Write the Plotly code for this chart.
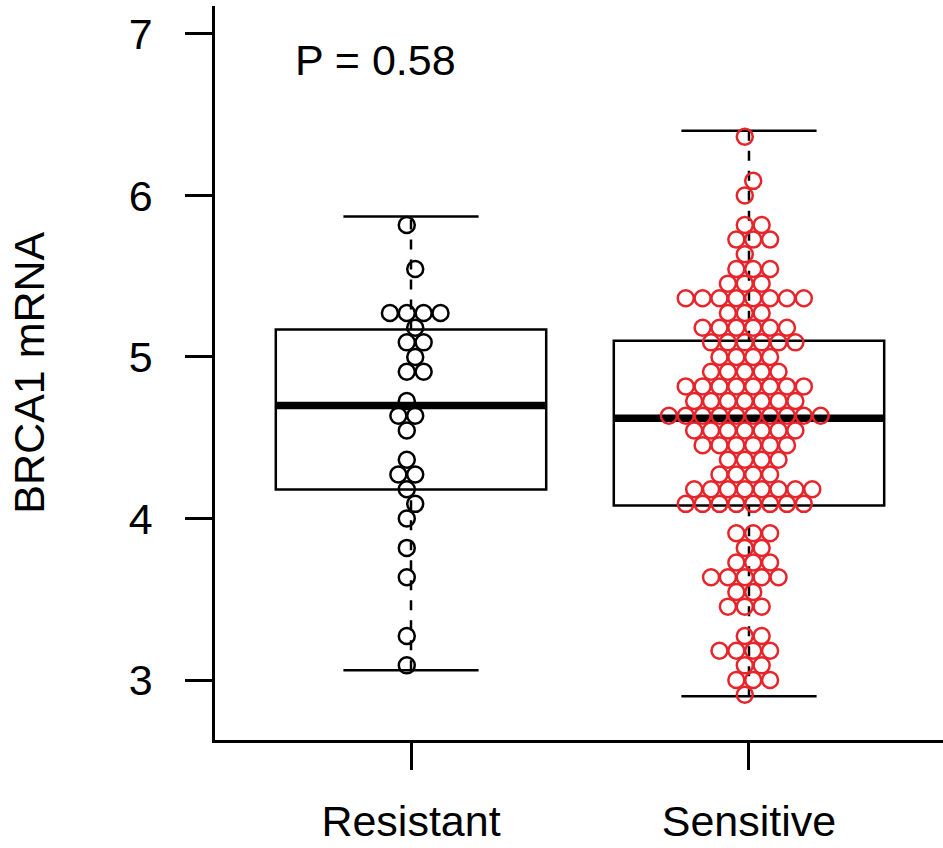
import numpy as np
import plotly.graph_objects as go

# ---------------- data ----------------
groups = ["Resistant", "Sensitive"]

resistant = [5.82, 5.54, 5.27, 5.27, 5.27, 5.27, 5.18, 5.09, 5.09, 5.00, 4.91, 4.91,
             4.73, 4.64, 4.64, 4.55, 4.36, 4.27, 4.27, 4.18, 4.09, 4.00, 3.82, 3.64,
             3.27, 3.09]

sensitive = [6.36, 6.09, 6.00, 5.82, 5.82, 5.73, 5.73, 5.73, 5.64,
             5.54, 5.54, 5.54, 5.45, 5.45, 5.45,
             5.36, 5.36, 5.36, 5.36, 5.36, 5.36, 5.36, 5.36,
             5.27, 5.27, 5.27,
             5.18, 5.18, 5.18, 5.18, 5.18, 5.18,
             5.09, 5.09, 5.09, 5.09, 5.09, 5.09,
             5.00, 5.00, 5.00, 5.00,
             4.91, 4.91, 4.91, 4.91, 4.91,
             4.82, 4.82, 4.82, 4.82, 4.82, 4.82, 4.82, 4.82,
             4.73, 4.73, 4.73, 4.73, 4.73, 4.73, 4.73,
             4.64, 4.64, 4.64, 4.64, 4.64, 4.64, 4.64, 4.64, 4.64, 4.64,
             4.55, 4.55, 4.55, 4.55, 4.55, 4.55, 4.55,
             4.45, 4.45, 4.45, 4.45, 4.45, 4.45,
             4.36, 4.36, 4.36, 4.36,
             4.27, 4.27, 4.27, 4.27,
             4.18, 4.18, 4.18, 4.18, 4.18, 4.18, 4.18, 4.18,
             4.09, 4.09, 4.09, 4.09, 4.09, 4.09, 4.09, 4.09,
             3.91, 3.91, 3.91, 3.82, 3.82,
             3.73, 3.73, 3.73,
             3.64, 3.64, 3.64, 3.64, 3.64,
             3.55, 3.55, 3.45, 3.45, 3.45,
             3.27, 3.27, 3.18, 3.18, 3.18, 3.18,
             3.09, 3.09, 3.00, 3.00, 3.00, 2.91]

# boxplot statistics: lower whisker, Q1, median, Q3, upper whisker
res_stats = [3.06, 4.18, 4.70, 5.17, 5.87]
sen_stats = [2.90, 4.08, 4.62, 5.10, 6.40]

p_label = "P = 0.58"
y_ticks = [3, 4, 5, 6, 7]

# ---------------- styling ----------------
RED = "#E8242B"
BLACK = "#000000"
FONT = "Liberation Sans, Arial, sans-serif"
GRID = 0.0909      # vertical bin size (data units)
DX = 0.0499        # horizontal point spacing (data units)


def hex_swarm(values, center):
    """beeswarm 'hex' layout: bin values into rows, alternate row offsets."""
    ks = np.array([int(round(v / GRID)) for v in values])
    xs = np.zeros(len(values))
    for k in np.unique(ks):
        idx = np.where(ks == k)[0]
        n = len(idx)
        a = np.arange(1, n + 1)
        m = (n + 1) / 2
        if k % 2 == 0:
            off = a - np.floor(m) - 0.25
        else:
            off = a - np.ceil(m) + 0.25
        xs[idx] = center + off * DX
    return xs, ks * GRID


fig = go.Figure()

shapes = []
for pos, st in zip([1, 2], [res_stats, sen_stats]):
    lo, q1, med, q3, hi = st
    shapes.append(dict(type="rect", x0=pos - 0.4, x1=pos + 0.4, y0=q1, y1=q3,
                       line=dict(color=BLACK, width=2.5), layer="below"))
    shapes.append(dict(type="line", x0=pos - 0.4, x1=pos + 0.4, y0=med, y1=med,
                       line=dict(color=BLACK, width=7.5), layer="below"))
    shapes.append(dict(type="line", x0=pos, x1=pos, y0=q3, y1=hi,
                       line=dict(color=BLACK, width=2.5, dash="10px,10px"), layer="below"))
    shapes.append(dict(type="line", x0=pos, x1=pos, y0=lo, y1=q1,
                       line=dict(color=BLACK, width=2.5, dash="10px,10px"), layer="below"))
    for yv in (lo, hi):
        shapes.append(dict(type="line", x0=pos - 0.2, x1=pos + 0.2, y0=yv, y1=yv,
                           line=dict(color=BLACK, width=2.5), layer="below"))

for pos, vals, col in [(1, resistant, BLACK), (2, sensitive, RED)]:
    xs, ys = hex_swarm(vals, pos)
    fig.add_trace(go.Scatter(
        x=xs, y=ys, mode="markers",
        marker=dict(symbol="circle-open", size=16, color=col,
                    line=dict(color=col, width=2.5)),
        showlegend=False, hoverinfo="y", cliponaxis=False))

fig.update_layout(
    width=943, height=848,
    margin=dict(l=215, r=0, t=6, b=108, autoexpand=False),
    paper_bgcolor="white", plot_bgcolor="white",
    shapes=shapes,
    font=dict(family=FONT, size=43, color=BLACK),
    xaxis=dict(range=[0.4201, 2.574], tickmode="array", tickvals=[1, 2],
               ticktext=groups, showgrid=False, zeroline=False, automargin=False,
               showline=True, linecolor=BLACK, linewidth=2.5,
               ticks="outside", ticklen=27, tickwidth=2.5, tickcolor=BLACK,
               ticklabelstandoff=15,
               tickfont=dict(family=FONT, size=43, color=BLACK)),
    yaxis=dict(range=[2.6285, 7.173], tickmode="array", tickvals=y_ticks,
               ticktext=[str(t) for t in y_ticks], showgrid=False, zeroline=False,
               automargin=False,
               showline=True, linecolor=BLACK, linewidth=2.5,
               ticks="outside", ticklen=27, tickwidth=2.5, tickcolor=BLACK,
               ticklabelstandoff=24,
               tickfont=dict(family=FONT, size=43, color=BLACK)),
    annotations=[
        dict(text="BRCA1 mRNA", xref="paper", yref="paper", x=-0.256, y=0.5,
             xanchor="center", yanchor="middle", textangle=-90, showarrow=False,
             font=dict(family=FONT, size=43, color=BLACK)),
        dict(text=p_label, xref="x", yref="y", x=0.896, y=6.84,
             xanchor="center", yanchor="middle", showarrow=False,
             font=dict(family=FONT, size=43, color=BLACK)),
    ],
)

fig.write_html(
    "out.html",
    config={"displayModeBar": False},
    post_script="document.body.style.margin='0';document.body.style.overflow='hidden';",
)
